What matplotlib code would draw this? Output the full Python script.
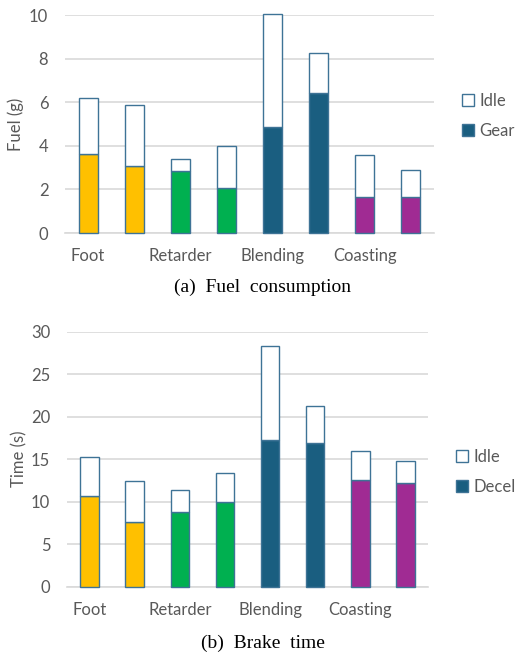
import matplotlib
matplotlib.use("Agg")
import matplotlib.pyplot as plt
from matplotlib.patches import Patch

groups = ["Foot", "Retarder", "Blending", "Coasting"]
bar_colors = ["#FFC000", "#FFC000", "#00B050", "#00B050",
              "#1A5E80", "#1A5E80", "#A02B93", "#A02B93"]

fuel_total = [6.19, 5.88, 3.40, 3.98, 10.03, 8.24, 3.59, 2.87]
fuel_gear = [3.62, 3.09, 2.83, 2.05, 4.85, 6.40, 1.66, 1.66]
fuel_ticks = [0, 2, 4, 6, 8, 10]

time_total = [15.29, 12.43, 11.41, 13.41, 28.31, 21.29, 16.0, 14.82]
time_decel = [10.67, 7.61, 8.78, 10.0, 17.29, 16.94, 12.59, 12.24]
time_ticks = [0, 5, 10, 15, 20, 25, 30]

fig = plt.figure(figsize=(5.16, 6.6), dpi=100)
W, H = 516, 660

edge = "#3E7396"
grid_c = "#D9D9D9"
txt_c = "#595959"
font = "Lato"
fs = 12

def draw(ax, total, base, ticks, ylabel, base_name, leg_x, leg_y):
    x = list(range(len(total)))
    idle = [t - b for t, b in zip(total, base)]
    ax.bar(x, base, width=0.41, color=bar_colors, edgecolor=edge, linewidth=1.0, zorder=3)
    ax.bar(x, idle, bottom=base, width=0.41, color="white", edgecolor=edge, linewidth=1.0, zorder=3)
    ax.set_xlim(-0.5, len(total) - 0.5)
    ax.set_ylim(ticks[0], ticks[-1])
    ax.set_yticks(ticks)
    ax.set_yticklabels([str(t) for t in ticks], fontfamily=font, fontsize=fs, color=txt_c)
    ax.set_xticks([0, 2, 4, 6])
    ax.set_xticklabels(groups, fontfamily=font, fontsize=fs, color=txt_c)
    ax.tick_params(axis="both", length=0)
    ax.tick_params(axis="y", pad=12)
    ax.tick_params(axis="x", pad=11)
    for s in ["top", "right", "left"]:
        ax.spines[s].set_visible(False)
    ax.spines["bottom"].set_color(grid_c)
    ax.spines["bottom"].set_linewidth(1.2)
    ax.grid(axis="y", color=grid_c, linewidth=1.2, zorder=0)
    ax.set_axisbelow(True)
    for p in ax.patches:
        p.set_clip_on(False)
    ax.set_ylabel(ylabel, fontfamily=font, fontsize=fs, color=txt_c)
    handles = [Patch(facecolor="white", edgecolor=edge, linewidth=1.0, label="Idle"),
               Patch(facecolor="#1A5E80", edgecolor=edge, linewidth=1.0, label=base_name)]
    fig.legend(handles=handles, loc="upper left",
               bbox_to_anchor=(leg_x / W, 1 - leg_y / H), frameon=False,
               prop={"family": font, "size": fs}, labelcolor=txt_c,
               handlelength=0.7, handleheight=0.7, handletextpad=0.35,
               labelspacing=0.85, borderaxespad=0, borderpad=0)

ax1 = fig.add_axes([65 / W, 1 - 233 / H, (434 - 65) / W, (233 - 15) / H])
draw(ax1, fuel_total, fuel_gear, fuel_ticks, "Fuel (g)", "Gear", 462, 93)
ax1.yaxis.set_label_coords(-0.11, 0.5)

ax2 = fig.add_axes([67 / W, 1 - 586.7 / H, (428 - 67) / W, (586.7 - 331.7) / H])
draw(ax2, time_total, time_decel, time_ticks, "Time (s)", "Decel", 456, 449)
ax2.yaxis.set_label_coords(-0.11, 0.5)

fig.text(263 / W, 1 - 287 / H, "(a)  Fuel  consumption", ha="center", va="center",
         fontfamily="Liberation Serif", fontsize=14, color="black")
fig.text(263 / W, 1 - 643 / H, "(b)  Brake  time", ha="center", va="center",
         fontfamily="Liberation Serif", fontsize=14, color="black")

fig.savefig("out.png", dpi=100)
